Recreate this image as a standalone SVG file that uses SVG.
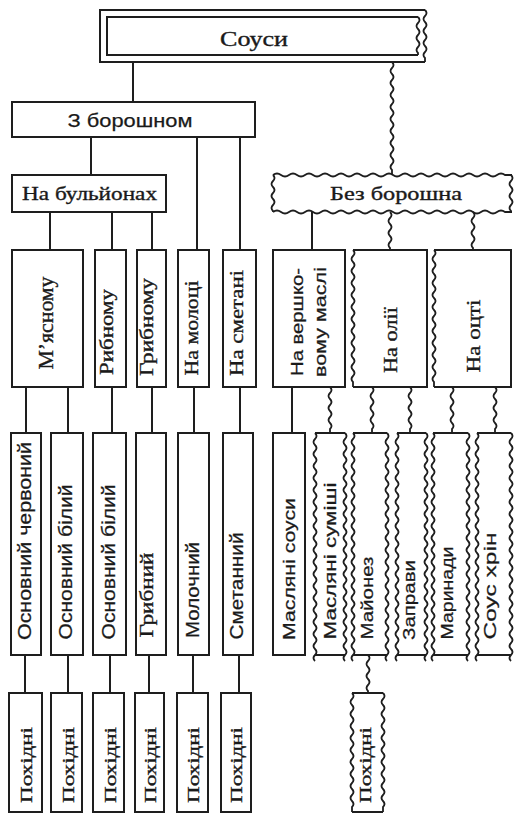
<svg xmlns="http://www.w3.org/2000/svg" xmlns:xlink="http://www.w3.org/1999/xlink" width="514" height="815" viewBox="0 0 514 815">
<style>
  .b{fill:none;stroke:#1e1e1e;stroke-width:2}
  .w{fill:none;stroke:#1e1e1e;stroke-width:1.8}
  .l{fill:none;stroke:#1e1e1e;stroke-width:2}
  .s{font-family:"Liberation Serif","Times New Roman",serif;fill:#1a1a1a;stroke:#1a1a1a;stroke-width:0.35;text-anchor:middle}
  .a{font-family:"Liberation Sans",Arial,sans-serif;fill:#1a1a1a;stroke:#1a1a1a;stroke-width:0.25;text-anchor:middle}
</style>
<defs>
  <!-- wavy strokes, drawn downward (wv) or rightward (wh) from the origin -->
  <path id="wv37" d="M0 0q3 3 0 6t0 6t0 6t0 6t0 6t0 6l0 1"/>
  <path id="wv38" d="M0 0q3 3 0 6t0 6t0 6t0 6t0 6t0 6l0 2"/>
  <path id="wv46" d="M0 0q3 3 0 6t0 6t0 6t0 6t0 6t0 6t0 6l0 4"/>
  <path id="wv52" d="M0 0q3 3 0 6t0 6t0 6t0 6t0 6t0 6t0 6t0 6l0 4"/>
  <path id="wv113" d="M0 0q3 3 0 6t0 6t0 6t0 6t0 6t0 6t0 6t0 6t0 6t0 6t0 6t0 6t0 6t0 6t0 6t0 6t0 6t0 6l0 5"/>
  <path id="wv119" d="M0 0q3 3 0 6t0 6t0 6t0 6t0 6t0 6t0 6t0 6t0 6t0 6t0 6t0 6t0 6t0 6t0 6t0 6t0 6t0 6t0 6l0 5"/>
  <path id="wv137" d="M0 0q3 3 0 6t0 6t0 6t0 6t0 6t0 6t0 6t0 6t0 6t0 6t0 6t0 6t0 6t0 6t0 6t0 6t0 6t0 6t0 6t0 6t0 6t0 6l0 5"/>
  <path id="wv222" d="M0 0q3 3 0 6t0 6t0 6t0 6t0 6t0 6t0 6t0 6t0 6t0 6t0 6t0 6t0 6t0 6t0 6t0 6t0 6t0 6t0 6t0 6t0 6t0 6t0 6t0 6t0 6t0 6t0 6t0 6t0 6t0 6t0 6t0 6t0 6t0 6t0 6t0 6t0 6t0 6"/>
  <path id="wh239" d="M0 0q4 -3 8 0t8 0t8 0t8 0t8 0t8 0t8 0t8 0t8 0t8 0t8 0t8 0t8 0t8 0t8 0t8 0t8 0t8 0t8 0t8 0t8 0t8 0t8 0t8 0t8 0t8 0t8 0t8 0t8 0l7 0"/>
</defs>

<rect width="514" height="815" fill="#ffffff"/>

<!-- connectors -->
<g id="connectors">
  <path class="l" d="M133 62V102"/>
  <use class="w" href="#wv113" x="392" y="62"/>
  <path class="l" d="M91 137V175M197 137V250M240 137V250"/>
  <path class="l" d="M50 212V250M112 212V250M152 212V250M312 212V250"/>
  <use class="w" href="#wv38" x="390" y="212"/>
  <use class="w" href="#wv38" x="473" y="212"/>
  <path class="l" d="M26 387V433M68 387V433M112 387V433M152 387V433M194 387V433M240 387V433M292 387V433"/>
  <use class="w" href="#wv46" x="330" y="387"/>
  <use class="w" href="#wv46" x="372" y="387"/>
  <use class="w" href="#wv46" x="410" y="387"/>
  <use class="w" href="#wv46" x="452" y="387"/>
  <use class="w" href="#wv46" x="495" y="387"/>
  <path class="l" d="M25 655V693M68 655V693M110 655V693M149 655V693M193 655V693M239 655V693"/>
  <use class="w" href="#wv38" x="368" y="655"/>
</g>

<!-- level 0 -->
<g id="n-sousy">
  <path class="b" d="M425 10H100V62H425"/>
  <use class="w" href="#wv52" x="425" y="10"/>
  <path class="b" d="M418 17H107V55H418"/>
  <use class="w" href="#wv38" x="418" y="17"/>
  <text class="s" x="254" y="46" font-size="20" textLength="68" lengthAdjust="spacingAndGlyphs">Соуси</text>
</g>

<!-- level 1 -->
<g id="n-z-boroshnom">
  <rect class="b" x="12" y="102" width="243" height="35"/>
  <text class="a" x="130" y="127" font-size="19" textLength="125" lengthAdjust="spacingAndGlyphs">З борошном</text>
</g>
<g id="n-bez-boroshna">
  <use class="w" href="#wh239" x="273" y="175"/>
  <use class="w" href="#wh239" x="273" y="212"/>
  <use class="w" href="#wv37" x="273" y="175"/>
  <use class="w" href="#wv37" x="511" y="175"/>
  <text class="s" x="396" y="200" font-size="19" textLength="132" lengthAdjust="spacingAndGlyphs">Без борошна</text>
</g>

<!-- level 2 -->
<g id="n-na-bulionakh">
  <rect class="b" x="12" y="175" width="154" height="37"/>
  <text class="s" x="89.5" y="200" font-size="19" textLength="135" lengthAdjust="spacingAndGlyphs">На бульйонах</text>
</g>

<!-- level 3, left branch -->
<g id="n-miasnomu">
  <rect class="b" x="12" y="250" width="71" height="137"/>
  <text class="s" transform="translate(53 323) rotate(-90)" font-size="20" textLength="93" lengthAdjust="spacingAndGlyphs">М’ясному</text>
</g>
<g id="n-rybnomu">
  <rect class="b" x="95" y="250" width="31" height="137"/>
  <text class="s" transform="translate(113 332) rotate(-90)" font-size="19" textLength="86" lengthAdjust="spacingAndGlyphs">Рибному</text>
</g>
<g id="n-hrybnomu">
  <rect class="b" x="137" y="250" width="29" height="137"/>
  <text class="s" transform="translate(153 327) rotate(-90)" font-size="19" textLength="98" lengthAdjust="spacingAndGlyphs">Грибному</text>
</g>
<g id="n-na-molotsi">
  <rect class="b" x="178" y="250" width="31" height="137"/>
  <text class="s" transform="translate(198 328) rotate(-90)" font-size="19" textLength="95" lengthAdjust="spacingAndGlyphs">На молоці</text>
</g>
<g id="n-na-smetani">
  <rect class="b" x="223" y="250" width="33" height="137"/>
  <text class="s" transform="translate(243 323) rotate(-90)" font-size="19" textLength="106" lengthAdjust="spacingAndGlyphs">На сметані</text>
</g>

<!-- level 3, right branch -->
<g id="n-na-vershkovomu-masli">
  <rect class="b" x="273" y="250" width="72" height="137"/>
  <text class="a" transform="translate(303 322) rotate(-90)" font-size="17" textLength="108" lengthAdjust="spacingAndGlyphs">На вершко-</text>
  <text class="a" transform="translate(326 322) rotate(-90)" font-size="17" textLength="110" lengthAdjust="spacingAndGlyphs">вому маслі</text>
</g>
<g id="n-na-olii">
  <path class="b" d="M353 250H427V387H353"/>
  <use class="w" href="#wv137" x="353" y="250"/>
  <text class="s" transform="translate(397 340) rotate(-90)" font-size="19" textLength="66" lengthAdjust="spacingAndGlyphs">На олії</text>
</g>
<g id="n-na-otsti">
  <path class="b" d="M434 250H511V387H434"/>
  <use class="w" href="#wv137" x="434" y="250"/>
  <text class="s" transform="translate(480 336) rotate(-90)" font-size="19" textLength="73" lengthAdjust="spacingAndGlyphs">На оцті</text>
</g>

<!-- level 4, left branch -->
<g id="n-osnovnyi-chervonyi">
  <rect class="b" x="11" y="433" width="30" height="222"/>
  <text class="a" transform="translate(31 541) rotate(-90)" font-size="18" textLength="198" lengthAdjust="spacingAndGlyphs">Основний червоний</text>
</g>
<g id="n-osnovnyi-bilyi-1">
  <rect class="b" x="51" y="433" width="32" height="222"/>
  <text class="a" transform="translate(72 562) rotate(-90)" font-size="18" textLength="155" lengthAdjust="spacingAndGlyphs">Основний білий</text>
</g>
<g id="n-osnovnyi-bilyi-2">
  <rect class="b" x="93" y="433" width="33" height="222"/>
  <text class="a" transform="translate(115 562) rotate(-90)" font-size="18" textLength="155" lengthAdjust="spacingAndGlyphs">Основний білий</text>
</g>
<g id="n-hrybnyi">
  <rect class="b" x="136" y="433" width="30" height="222"/>
  <text class="s" transform="translate(153 595) rotate(-90)" font-size="19" textLength="85" lengthAdjust="spacingAndGlyphs">Грибний</text>
</g>
<g id="n-molochnyi">
  <rect class="b" x="178" y="433" width="31" height="222"/>
  <text class="a" transform="translate(199 590) rotate(-90)" font-size="18" textLength="96" lengthAdjust="spacingAndGlyphs">Молочний</text>
</g>
<g id="n-smetannyi">
  <rect class="b" x="223" y="433" width="30" height="222"/>
  <text class="a" transform="translate(243 586) rotate(-90)" font-size="18" textLength="107" lengthAdjust="spacingAndGlyphs">Сметанний</text>
</g>

<!-- level 4, right branch -->
<g id="n-masliani-sousy">
  <rect class="b" x="273" y="433" width="32" height="222"/>
  <text class="a" transform="translate(295 569) rotate(-90)" font-size="17" textLength="142" lengthAdjust="spacingAndGlyphs">Масляні соуси</text>
</g>
<g id="n-masliani-sumishi">
  <path class="b" d="M315 433H345M315 655H345"/>
  <use class="w" href="#wv222" x="315" y="433"/>
  <use class="w" href="#wv222" x="345" y="433"/>
  <text class="a" transform="translate(336 561) rotate(-90)" font-size="17" textLength="157" lengthAdjust="spacingAndGlyphs">Масляні  суміші</text>
</g>
<g id="n-maionez">
  <path class="b" d="M353 433H387M353 655H387"/>
  <use class="w" href="#wv222" x="353" y="433"/>
  <use class="w" href="#wv222" x="387" y="433"/>
  <text class="a" transform="translate(373 598) rotate(-90)" font-size="17" textLength="83" lengthAdjust="spacingAndGlyphs">Майонез</text>
</g>
<g id="n-zapravy">
  <path class="b" d="M397 433H426M397 655H426"/>
  <use class="w" href="#wv222" x="397" y="433"/>
  <use class="w" href="#wv222" x="426" y="433"/>
  <text class="a" transform="translate(415 600) rotate(-90)" font-size="17" textLength="80" lengthAdjust="spacingAndGlyphs">Заправи</text>
</g>
<g id="n-marynady">
  <path class="b" d="M433 433H468M433 655H468"/>
  <use class="w" href="#wv222" x="433" y="433"/>
  <use class="w" href="#wv222" x="468" y="433"/>
  <text class="a" transform="translate(453 593) rotate(-90)" font-size="17" textLength="93" lengthAdjust="spacingAndGlyphs">Маринади</text>
</g>
<g id="n-sous-khrin">
  <path class="b" d="M477 433H511M477 655H511"/>
  <use class="w" href="#wv222" x="477" y="433"/>
  <use class="w" href="#wv222" x="511" y="433"/>
  <text class="a" transform="translate(496 586) rotate(-90)" font-size="17" textLength="107" lengthAdjust="spacingAndGlyphs">Соус  хрін</text>
</g>

<!-- level 5: derived sauces -->
<g id="n-pokhidni-1">
  <rect class="b" x="9" y="693" width="33" height="119"/>
  <text class="s" transform="translate(32 765) rotate(-90)" font-size="17" textLength="76" lengthAdjust="spacingAndGlyphs">Похідні</text>
</g>
<g id="n-pokhidni-2">
  <rect class="b" x="51" y="693" width="31" height="119"/>
  <text class="s" transform="translate(74 765) rotate(-90)" font-size="17" textLength="76" lengthAdjust="spacingAndGlyphs">Похідні</text>
</g>
<g id="n-pokhidni-3">
  <rect class="b" x="93" y="693" width="31" height="119"/>
  <text class="s" transform="translate(116 765) rotate(-90)" font-size="17" textLength="76" lengthAdjust="spacingAndGlyphs">Похідні</text>
</g>
<g id="n-pokhidni-4">
  <rect class="b" x="135" y="693" width="29" height="119"/>
  <text class="s" transform="translate(156 765) rotate(-90)" font-size="17" textLength="76" lengthAdjust="spacingAndGlyphs">Похідні</text>
</g>
<g id="n-pokhidni-5">
  <rect class="b" x="177" y="693" width="31" height="119"/>
  <text class="s" transform="translate(199 765) rotate(-90)" font-size="17" textLength="76" lengthAdjust="spacingAndGlyphs">Похідні</text>
</g>
<g id="n-pokhidni-6">
  <rect class="b" x="221" y="693" width="30" height="119"/>
  <text class="s" transform="translate(242 765) rotate(-90)" font-size="17" textLength="76" lengthAdjust="spacingAndGlyphs">Похідні</text>
</g>
<g id="n-pokhidni-7">
  <path class="b" d="M352 693H383M352 812H383"/>
  <use class="w" href="#wv119" x="352" y="693"/>
  <use class="w" href="#wv119" x="383" y="693"/>
  <text class="s" transform="translate(371 765) rotate(-90)" font-size="17" textLength="76" lengthAdjust="spacingAndGlyphs">Похідні</text>
</g>
</svg>
